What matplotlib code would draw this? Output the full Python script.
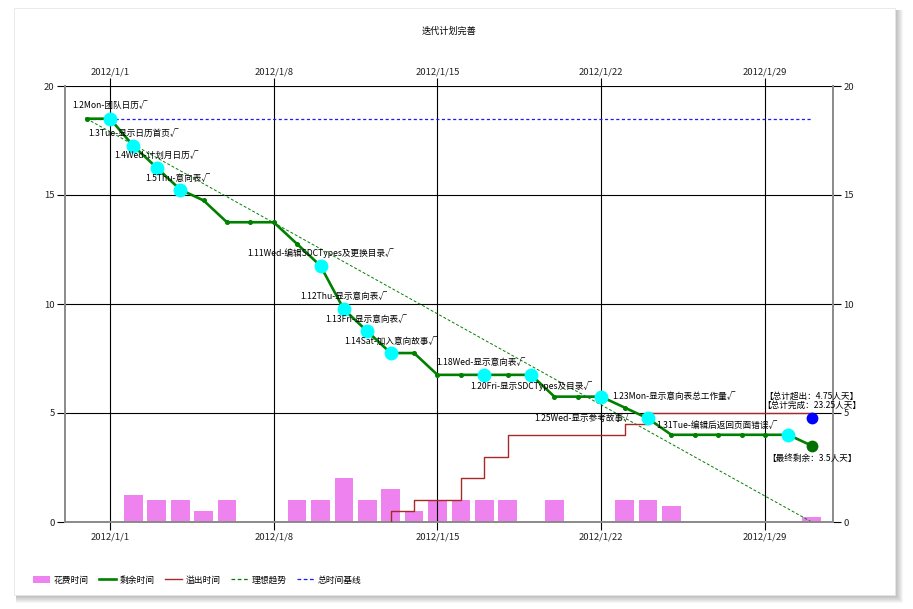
import numpy as np
import pandas as pd
import matplotlib
matplotlib.use('Agg')
import matplotlib.pyplot as plt
import matplotlib.dates as mdates
from matplotlib.patches import Rectangle, Patch
from matplotlib.lines import Line2D

plt.rcParams['font.family'] = ['Noto Sans CJK SC', 'DejaVu Sans']

# ---------------- data ----------------
title = '迭代计划完善'

remain_dates = ['2011-12-31', '2012-01-01', '2012-01-02', '2012-01-03', '2012-01-04',
                '2012-01-05', '2012-01-06', '2012-01-07', '2012-01-08', '2012-01-09',
                '2012-01-10', '2012-01-11', '2012-01-12', '2012-01-13', '2012-01-14',
                '2012-01-15', '2012-01-16', '2012-01-17', '2012-01-18', '2012-01-19',
                '2012-01-20', '2012-01-21', '2012-01-22', '2012-01-23', '2012-01-24',
                '2012-01-25', '2012-01-26', '2012-01-27', '2012-01-28', '2012-01-29',
                '2012-01-30', '2012-01-31']
remain_values = [18.5, 18.5, 17.25, 16.25, 15.25, 14.75, 13.75, 13.75, 13.75, 12.75,
                 11.75, 9.75, 8.75, 7.75, 7.75, 6.75, 6.75, 6.75, 6.75, 6.75,
                 5.75, 5.75, 5.75, 5.25, 4.75, 4.0, 4.0, 4.0, 4.0, 4.0, 4.0, 3.5]

spent_dates = ['2012-01-02', '2012-01-03', '2012-01-04', '2012-01-05', '2012-01-06',
               '2012-01-09', '2012-01-10', '2012-01-11', '2012-01-12', '2012-01-13',
               '2012-01-14', '2012-01-15', '2012-01-16', '2012-01-17', '2012-01-18',
               '2012-01-20', '2012-01-23', '2012-01-24', '2012-01-25', '2012-01-31']
spent_values = [1.25, 1.0, 1.0, 0.5, 1.0, 1.0, 1.0, 2.0, 1.0, 1.5,
                0.5, 1.0, 1.0, 1.0, 1.0, 1.0, 1.0, 1.0, 0.75, 0.25]

overflow_dates = ['2012-01-13', '2012-01-13', '2012-01-14', '2012-01-16', '2012-01-17',
                  '2012-01-18', '2012-01-23', '2012-01-24', '2012-01-31']
overflow_values = [0.0, 0.5, 1.0, 2.0, 3.0, 4.0, 4.5, 5.0, 5.0]

ideal_dates = ['2011-12-31', '2012-01-31']
ideal_values = [18.5, 0.0]

baseline_dates = ['2011-12-31', '2012-01-31']
baseline_values = [18.5, 18.5]

task_dates = ['2012-01-01', '2012-01-02', '2012-01-03', '2012-01-04', '2012-01-10',
              '2012-01-11', '2012-01-12', '2012-01-13', '2012-01-17', '2012-01-19',
              '2012-01-22', '2012-01-24', '2012-01-30']
task_labels = ['1.2Mon-团队日历√', '1.3Tue-显示日历首页√', '1.4Wed-计划月日历√',
               '1.5Thu-意向表√', '1.11Wed-编辑SDCTypes及更换目录√', '1.12Thu-显示意向表√',
               '1.13Fri-显示意向表√', '1.14Sat-加入意向故事√', '1.18Wed-显示意向表√',
               '1.20Fri-显示SDCTypes及目录√', '1.23Mon-显示意向表总工作量√',
               '1.25Wed-显示参考故事√', '1.31Tue-编辑后返回页面错误√']

total_over_date = '2012-01-31'
total_over_value = 4.75
final_remain_date = '2012-01-31'
final_remain_value = 3.5
over_text = '【总计超出：4.75人天】'
done_text = '【总计完成：23.25人天】'
final_text = '【最终剩余：3.5人天】'

xtick_dates = ['2012-01-01', '2012-01-08', '2012-01-15', '2012-01-22', '2012-01-29']
xtick_labels = ['2012/1/1', '2012/1/8', '2012/1/15', '2012/1/22', '2012/1/29']
yticks = [0, 5, 10, 15, 20]

legend_labels = ['花费时间', '剩余时间', '溢出时间', '理想趋势', '总时间基线']

# ---------------- helpers ----------------
def dn(s):
    return mdates.date2num(pd.Timestamp(s).to_pydatetime())

W, H = 913, 609
fig = plt.figure(figsize=(W / 100, H / 100), dpi=100)
fig.patch.set_facecolor('white')

# card with soft shadow
cx0, cy0, cx1, cy1 = 14, 8, 895, 595
for i in range(8, 0, -1):
    fig.patches.append(Rectangle(((cx0 + 2) / W, 1 - (cy1 + i) / H),
                                 (cx1 - cx0 - 2 + i) / W, (cy1 - cy0 + i - 2) / H,
                                 transform=fig.transFigure, facecolor='#000000',
                                 alpha=0.035, edgecolor='none', zorder=-20))
fig.patches.append(Rectangle((cx0 / W, 1 - cy1 / H), (cx1 - cx0) / W, (cy1 - cy0) / H,
                             transform=fig.transFigure, facecolor='white',
                             edgecolor='#e6e6e6', linewidth=0.6, zorder=-10))

L, R, T, B = 65, 833, 86, 522
ax = fig.add_axes([L / W, 1 - B / H, (R - L) / W, (B - T) / H])
ax.set_facecolor('none')
ax.set_zorder(5)

x0 = dn('2012-01-01')
ax.set_xlim(x0 - 1.924, x0 + 30.91)
ax.set_ylim(0, 20)

tick_fs = 6.8
lab_fs = 6.2

# bars
ax.bar([dn(d) for d in spent_dates], spent_values, width=0.8, color='#EE82EE',
       zorder=1, label=legend_labels[0])

# ideal trend & baseline
ax.plot([dn(d) for d in ideal_dates], ideal_values, color='#008000', lw=0.7,
        ls=(0, (3, 2)), zorder=2)
ax.plot([dn(d) for d in baseline_dates], baseline_values, color='#1a1aff', lw=0.9,
        ls=(0, (2.5, 2)), zorder=2)

# overflow
ax.plot([dn(d) for d in overflow_dates], overflow_values, color='#A52A2A', lw=1.0,
        drawstyle='steps-post', zorder=3)

# remaining
rx = [dn(d) for d in remain_dates]
ax.plot(rx, remain_values, color='#008000', lw=1.9, marker='o', markersize=2.6,
        zorder=4)

lookup = dict(zip(remain_dates, remain_values))
tx = [dn(d) for d in task_dates]
ty = [lookup[d] for d in task_dates]
ax.plot(tx, ty, ls='none', marker='o', markersize=10, color='#00FFFF',
        markeredgewidth=0, zorder=5)

ax.plot([dn(total_over_date)], [total_over_value], ls='none', marker='o',
        markersize=8.5, color='#0000FF', markeredgewidth=0, zorder=5)
ax.plot([dn(final_remain_date)], [final_remain_value], ls='none', marker='o',
        markersize=8.5, color='#007000', markeredgewidth=0, zorder=5)

label_offsets = [(0, 13, 'center'), (0, 13, 'center'), (0, 12, 'center'),
                 (-2, 11, 'center'), (0, 13, 'center'), (0, 13, 'center'),
                 (-1, 12, 'center'), (0, 12, 'center'), (-3, 12, 'center'),
                 (0, -11, 'center'), (11, 0, 'left'), (-16, 0, 'right'),
                 (-11, 9, 'right')]
for x, y, t, (dx, dy, ha) in zip(tx, ty, task_labels, label_offsets):
    ax.annotate(t, xy=(x, y), xytext=(dx, dy), textcoords='offset pixels',
                ha=ha, va='center', fontsize=lab_fs, color='black', zorder=6)

ax.annotate(over_text, xy=(dn(total_over_date), total_over_value), xytext=(0, 22),
            textcoords='offset pixels', ha='center', va='center', fontsize=lab_fs,
            zorder=6, annotation_clip=False)
ax.annotate(done_text, xy=(dn(total_over_date), total_over_value), xytext=(0, 13),
            textcoords='offset pixels', ha='center', va='center', fontsize=lab_fs,
            zorder=6, annotation_clip=False)
ax.annotate(final_text, xy=(dn(final_remain_date), final_remain_value), xytext=(0, -13),
            textcoords='offset pixels', ha='center', va='center', fontsize=lab_fs,
            zorder=6, annotation_clip=False)

# axes styling
xt = [dn(d) for d in xtick_dates]
ax.set_xticks(xt)
ax.set_xticklabels(xtick_labels)
ax.set_yticks(yticks)
ax.set_yticklabels([str(v) for v in yticks])
ax.tick_params(axis='both', direction='out', length=5.5, width=0.8, color='black',
               labelsize=tick_fs, labelcolor='#222222', pad=2)
ax.grid(True, color='black', lw=0.8)
ax.set_axisbelow('line')
for s in ['left', 'bottom', 'right']:
    ax.spines[s].set_color('#8a8a8a')
    ax.spines[s].set_linewidth(1.4)
ax.spines['top'].set_visible(False)

secx = ax.secondary_xaxis('top')
secx.set_xticks(xt)
secx.set_xticklabels(xtick_labels)
secx.tick_params(direction='out', length=5.5, width=0.8, color='black',
                 labelsize=tick_fs, labelcolor='#222222', pad=1)
for s in secx.spines.values():
    s.set_visible(False)

secy = ax.secondary_yaxis('right')
secy.set_yticks(yticks)
secy.set_yticklabels([str(v) for v in yticks])
secy.tick_params(direction='out', length=5.5, width=0.8, color='black',
                 labelsize=tick_fs, labelcolor='#222222', pad=2)
for s in secy.spines.values():
    s.set_visible(False)

fig.text(449 / W, 1 - 31 / H, title, ha='center', va='center', fontsize=6.6)

handles = [Patch(facecolor='#EE82EE', edgecolor='none'),
           Line2D([], [], color='#008000', lw=1.9),
           Line2D([], [], color='#A52A2A', lw=1.0),
           Line2D([], [], color='#008000', lw=0.9, ls=(0, (3, 2))),
           Line2D([], [], color='#1a1aff', lw=0.9, ls=(0, (3, 2)))]
fig.legend(handles, legend_labels, loc='center left',
           bbox_to_anchor=(33 / W, 1 - 580 / H), ncol=5, frameon=False,
           fontsize=6.3, handlelength=1.9, handletextpad=0.4, columnspacing=1.25,
           borderpad=0, borderaxespad=0)

fig.savefig('out.png', dpi=100)
